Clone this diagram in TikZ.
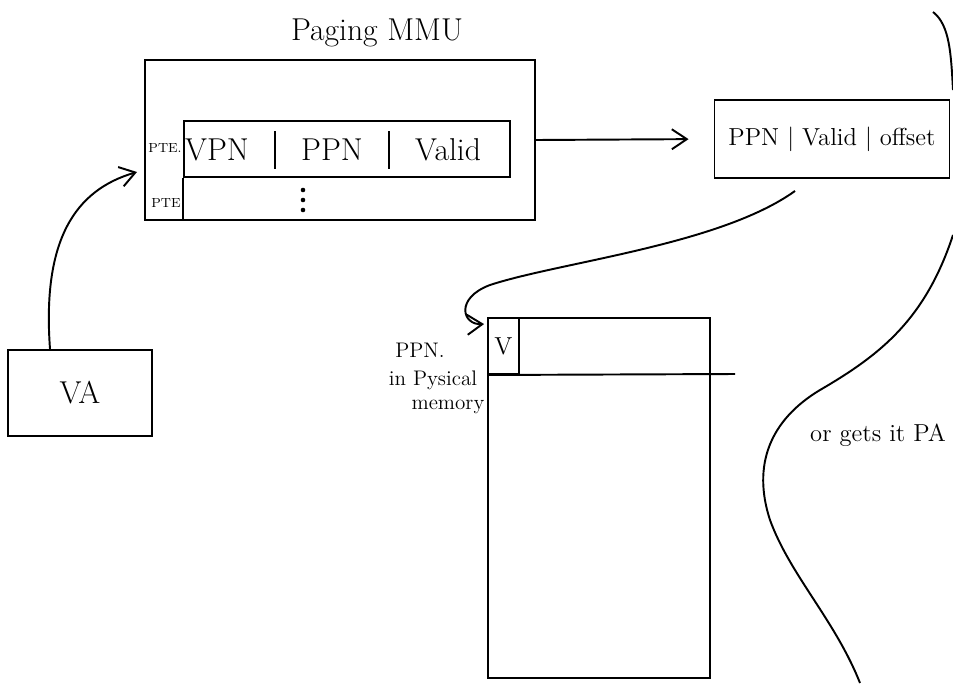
\documentclass[tikz,border=0pt]{standalone}
\usepackage{tikz}
\usetikzlibrary{arrows.meta,calc,positioning}

\begin{document}
\begin{tikzpicture}[x=0.02cm, y=-0.02cm,
    line width=1.1pt,
    frame/.style={draw, line width=1.1pt, inner sep=0pt},
    big/.style={font=\fontsize{18}{20}\selectfont},
    mid/.style={font=\fontsize{14}{16}\selectfont},
    lbl/.style={font=\fontsize{12}{13}\selectfont, inner sep=1pt},
    tiny/.style={font=\fontsize{7.5}{8}\selectfont, inner sep=1pt},
    arr/.style={-{Straight Barb[length=3mm, width=4mm]}, line width=1.1pt}
  ]
  \useasboundingbox (0,0) rectangle (953,683);

  % MMU with its page table entry
  \node[big] (title) at (377,33) {Paging MMU};
  \node[frame, minimum width=7.8cm, minimum height=3.2cm] (mmu) at (340,140) {};
  \node[frame, minimum width=6.52cm, minimum height=1.12cm] (pte) at (347,149) {};
  \node[big] (vpn) at (217,150) {VPN};
  \node[big] (ppn) at (332,150) {PPN};
  \node[big] (valid) at (448,150) {Valid};
  \draw ($(vpn.east)!0.5!(ppn.west)$) ++(0,-19) -- ++(0,38);
  \draw ($(ppn.east)!0.5!(valid.west)$) ++(0,-19) -- ++(0,38);
  \node[tiny] (ptea) at (165,148) {PTE.};
  \node[tiny] (pteb) at (166,203) {PTE};
  \draw (pte.south west) -- (pte.south west |- mmu.south);
  \node[inner sep=0pt, minimum height=0.5cm] (dots) at (303,200) {};
  \foreach \d in {-10,0,10}
    \fill (dots.center) ++(0,\d) circle (1.3pt);

  % translated result
  \node[frame, mid, minimum width=4.7cm, minimum height=1.56cm] (out) at (832,139) {PPN | Valid | offset};
  \draw[arr, shorten >=0.5cm] (mmu.east) -- (out.west);

  % virtual address in
  \node[frame, big, minimum width=2.88cm, minimum height=1.72cm] (va) at (80,393) {VA};
  \coordinate (mmuin) at (137,172);
  \draw[arr] ([xshift=-0.6cm]va.north) .. controls (42,240) and (75,190) .. (mmuin);

  % physical memory
  \node[frame, minimum width=4.44cm, minimum height=7.2cm] (mem) at (599,498) {};
  \node[frame, mid, minimum width=0.62cm, minimum height=1.12cm, anchor=north west] (vcell) at (mem.north west) {V};
  \coordinate (rowend) at (735,374);
  \draw (vcell.south west) -- (rowend);
  \node[lbl] (ppnlbl) at (420,350) {PPN.};
  \node[lbl] (inlbl) at (433,380) {in Pysical};
  \node[lbl] (memlbl) at (448,407) {memory};
  \draw[arr] ([xshift=-0.74cm, yshift=-0.24cm]out.south)
    .. controls (720,245) and (560,262) .. (490,285)
    .. controls (455,298) and (462,325) .. ([xshift=-0.06cm, yshift=-0.14cm]mem.north west);

  % the other path
  \draw (933,12) .. controls (950,25) and (951,55) .. (953,90);
  \draw (953,235) .. controls (925,320) and (880,355) .. (820,390)
    .. controls (770,420) and (752,465) .. (770,520)
    .. controls (790,575) and (835,620) .. (860,683);
  \node[mid] (pa) at (878,435) {or gets it PA};
\end{tikzpicture}
\end{document}
